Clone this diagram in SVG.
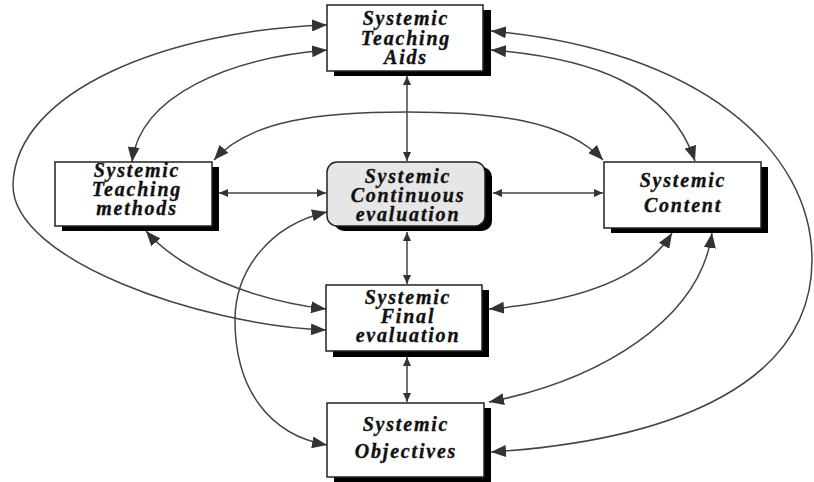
<svg xmlns="http://www.w3.org/2000/svg" width="814" height="482" viewBox="0 0 814 482">
  <style>
    .box { fill: #ffffff; stroke: #222; stroke-width: 1.5; }
    .box.soft { fill: #e6e6e6; }
    .shadow { fill: #000; }
    .label { font-family: "Liberation Serif", "Times New Roman", serif; font-weight: bold; font-style: italic; font-size: 20px; letter-spacing: 1.8px; fill: #111; stroke: #111; stroke-width: 0.35; text-anchor: middle; }
    .link { fill: none; stroke: #444; stroke-width: 1.5; }
    .curve { marker-start: url(#bigHead); marker-end: url(#bigHead); }
    .straight { marker-start: url(#smallHead); marker-end: url(#smallHead); }
  </style>
  <defs>
    <marker id="bigHead" viewBox="0 0 15 12" refX="15" refY="6" markerWidth="15" markerHeight="12" markerUnits="userSpaceOnUse" orient="auto-start-reverse">
      <path d="M0,0 L15,6 L0,12 z" fill="#333"/>
    </marker>
    <marker id="smallHead" viewBox="0 0 9 8" refX="9" refY="4" markerWidth="9" markerHeight="8" markerUnits="userSpaceOnUse" orient="auto-start-reverse">
      <path d="M0,0 L9,4 L0,8 z" fill="#333"/>
    </marker>
  </defs>

  <rect width="814" height="482" fill="#ffffff"/>

  <!-- connectors -->
  <g id="connectors">
    <!-- straight links -->
    <path class="link straight" d="M407,76 L407,161"/>
    <path class="link straight" d="M219,193 L326,193"/>
    <path class="link straight" d="M493,193 L603,193"/>
    <path class="link straight" d="M407,232 L407,284"/>
    <path class="link straight" d="M407,357 L407,402"/>

    <!-- outer left arc: Aids to Final evaluation -->
    <path class="link curve" d="M327,25 C170,30 15,90 13,185 C12,260 200,325 326,330"/>
    <!-- Aids to Teaching methods -->
    <path class="link curve" d="M327,50 C230,58 140,95 132,162"/>
    <!-- Teaching methods to Content, over the top -->
    <path class="link curve" d="M214,160 C250,120 320,112 407,112 C495,112 565,120 603,160"/>
    <!-- Aids to Content -->
    <path class="link curve" d="M491,50 C590,58 670,85 695,161"/>
    <!-- outer right arc: Aids to Objectives -->
    <path class="link curve" d="M491,31 C700,50 812,150 812,260 C812,380 680,440 491,452"/>
    <!-- Content to Final evaluation -->
    <path class="link curve" d="M672,233 C640,285 560,303 489,309"/>
    <!-- Content to Objectives -->
    <path class="link curve" d="M712,233 C700,320 600,380 489,402"/>
    <!-- Continuous evaluation to Objectives -->
    <path class="link curve" d="M327,212 C270,225 235,270 235,320 C235,390 270,435 327,445"/>
    <!-- Teaching methods to Final evaluation -->
    <path class="link curve" d="M146,231 C180,270 250,300 326,309"/>
  </g>

  <!-- nodes -->
  <g id="aids">
    <rect class="shadow" x="334" y="10" width="157" height="66"/>
    <rect class="box" x="327" y="5" width="156" height="66"/>
    <text class="label" x="406" y="25">Systemic</text>
    <text class="label" x="406" y="45">Teaching</text>
    <text class="label" x="406" y="64">Aids</text>
  </g>

  <g id="methods">
    <rect class="shadow" x="62" y="167" width="157" height="64"/>
    <rect class="box" x="55" y="162" width="157" height="64"/>
    <text class="label" x="137" y="177">Systemic</text>
    <text class="label" x="137" y="196">Teaching</text>
    <text class="label" x="137" y="215">methods</text>
  </g>

  <g id="continuous">
    <rect class="shadow" x="334" y="167" width="158" height="64" rx="10"/>
    <rect class="box soft" x="327" y="162" width="158" height="64" rx="10"/>
    <text class="label" x="408" y="183">Systemic</text>
    <text class="label" x="408" y="202">Continuous</text>
    <text class="label" x="408" y="221">evaluation</text>
  </g>

  <g id="content">
    <rect class="shadow" x="611" y="167" width="157" height="66"/>
    <rect class="box" x="604" y="162" width="157" height="66"/>
    <text class="label" x="683" y="187">Systemic</text>
    <text class="label" x="683" y="212">Content</text>
  </g>

  <g id="final">
    <rect class="shadow" x="333" y="290" width="156" height="67"/>
    <rect class="box" x="326" y="285" width="156" height="66"/>
    <text class="label" x="408" y="304">Systemic</text>
    <text class="label" x="408" y="323">Final</text>
    <text class="label" x="408" y="342">evaluation</text>
  </g>

  <g id="objectives">
    <rect class="shadow" x="334" y="408" width="157" height="74"/>
    <rect class="box" x="327" y="403" width="157" height="74"/>
    <text class="label" x="406" y="431">Systemic</text>
    <text class="label" x="406" y="458">Objectives</text>
  </g>
</svg>
